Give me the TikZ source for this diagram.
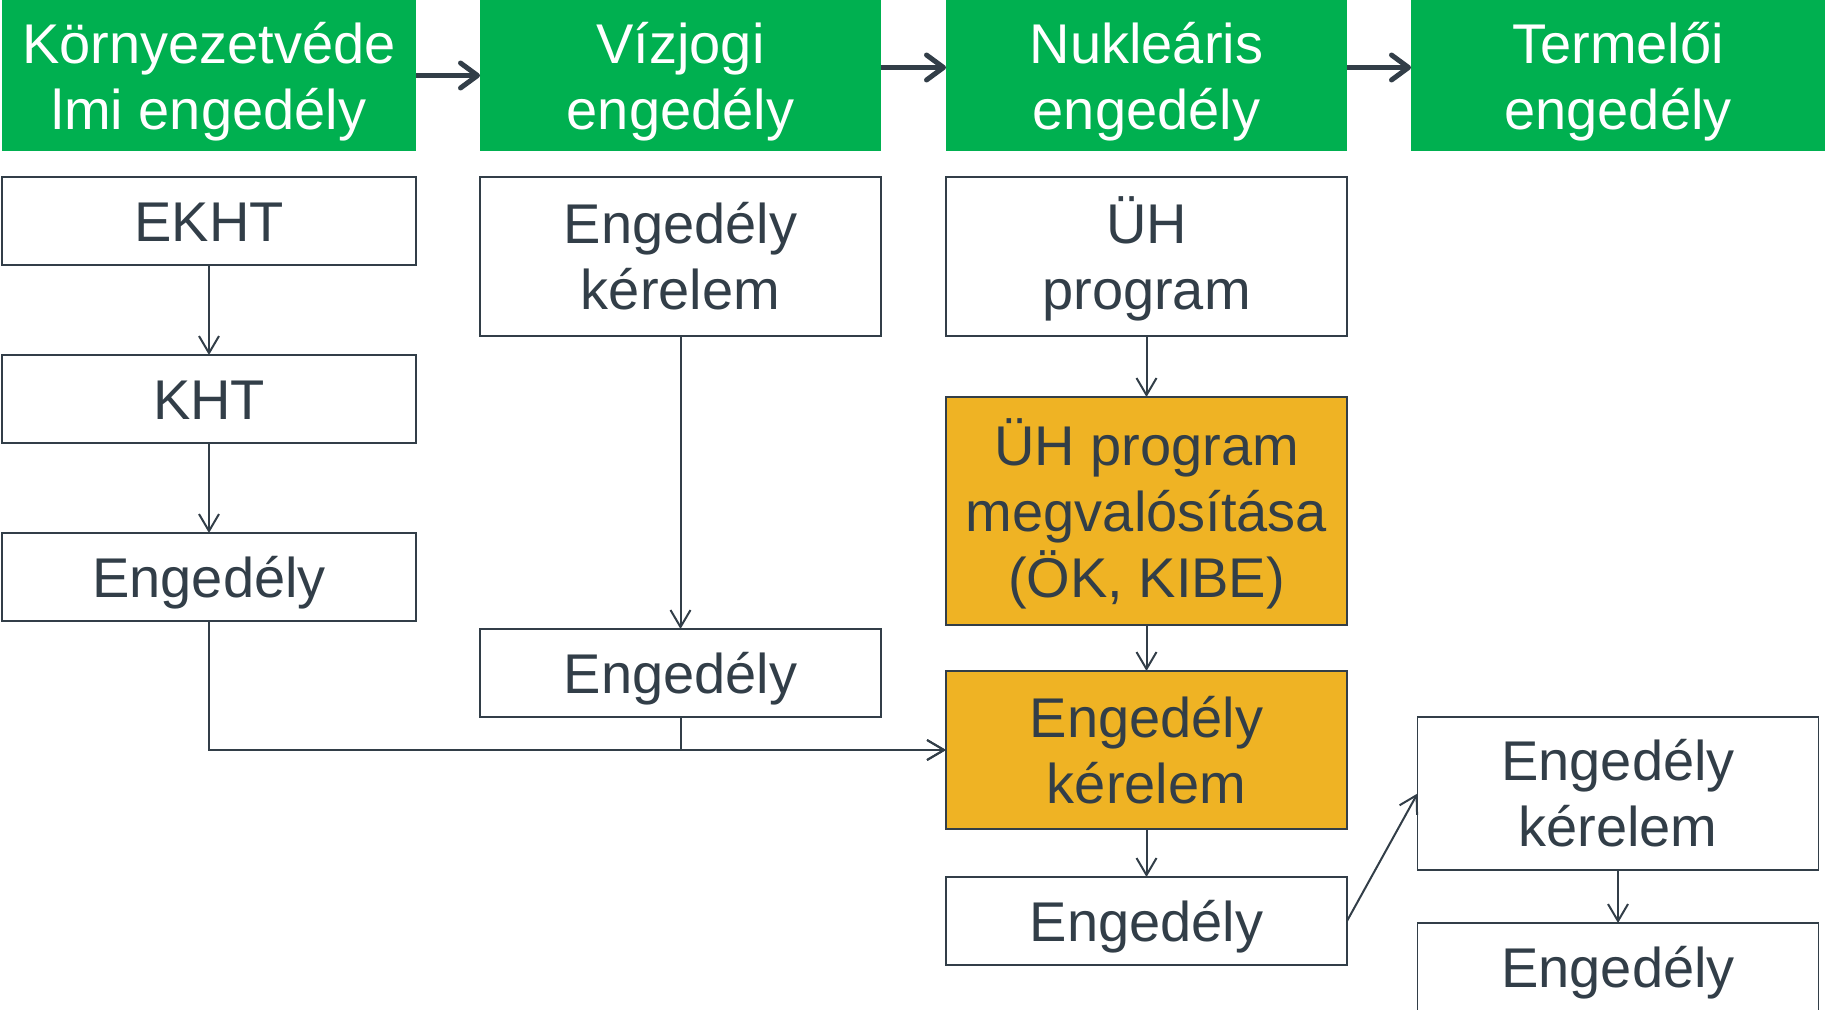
\documentclass[tikz,border=0pt]{standalone}
\usepackage{fontspec}
\setmainfont{Liberation Sans}
\usepackage{xcolor}
\usepackage{tikz}
\usetikzlibrary{positioning,arrows.meta,shapes}
\definecolor{hdgreen}{HTML}{00B050}
\definecolor{hiorange}{HTML}{EFB324}
\definecolor{darkslate}{HTML}{323E48}
\tikzstyle{head} = [rectangle, minimum width=401pt, minimum height=151pt, align=center, fill=hdgreen, text=white, text depth=0pt, outer sep=0pt, font=\fontsize{56pt}{66pt}\selectfont]
\tikzstyle{plain} = [rectangle, minimum width=401pt, minimum height=88pt, align=center, draw=darkslate, line width=1.8pt, fill=white, text=darkslate, text height=40pt, text depth=0pt, outer sep=0pt, font=\fontsize{56pt}{66pt}\selectfont]
\tikzstyle{hilite} = [plain, fill=hiorange]
\tikzstyle{tall} = [text height=106pt]
\tikzstyle{taller} = [text height=172pt]
\tikzstyle{bigarrow} = [line width=5pt, darkslate, -{Straight Barb[length=17pt,width=25pt,round]}]
\tikzstyle{link} = [line width=2pt, darkslate, -{Straight Barb[length=17pt,width=20pt]}]

\begin{document}
\begin{tikzpicture}
      \useasboundingbox (0pt,0pt) rectangle (1825pt,-1009pt);
      \node (hd1) [head, minimum width=414pt] at (209pt,-75.5pt) {Környezetvéde\\lmi engedély};
      \node (hd2) [head, right=64pt of hd1] {Vízjogi\\engedély};
      \node (hd3) [head, right=65pt of hd2] {Nukleáris\\engedély};
      \node (hd4) [head, right=64pt of hd3, minimum width=414pt] {Termelői\\engedély};

      \node (ekht) [plain, minimum width=414pt, below=26pt of hd1] {EKHT};
      \node (kht) [plain, minimum width=414pt, below=90pt of ekht] {KHT};
      \node (eng1) [plain, minimum width=414pt, below=90pt of kht] {Engedély};

      \node (ker2) [plain, tall, minimum height=159pt, below=26pt of hd2] {Engedély\\kérelem};
      \node (eng2) [plain, below=293pt of ker2] {Engedély};

      \node (uh) [plain, tall, minimum height=159pt, below=26pt of hd3] {ÜH\\program};
      \node (uhm) [hilite, taller, minimum height=228pt, below=61pt of uh] {ÜH program\\megvalósítása\\(ÖK, KIBE)};
      \node (ker3) [hilite, tall, minimum height=158pt, below=46pt of uhm] {Engedély\\kérelem};
      \node (eng3) [plain, below=48pt of ker3] {Engedély};

      \node (ker4) [plain, tall, minimum height=153pt, below=566pt of hd4] {Engedély\\kérelem};
      \node (eng4) [plain, below=53pt of ker4] {Engedély};

      \draw [bigarrow] (hd1) -- (hd2);
      \draw [bigarrow] ([yshift=8pt]hd2.east) -- ([yshift=8pt]hd3.west);
      \draw [bigarrow] ([yshift=8pt]hd3.east) -- ([yshift=8pt]hd4.west);

      \draw [link] (ekht) -- (kht);
      \draw [link] (kht) -- (eng1);
      \draw [link] (ker2) -- (eng2);
      \draw [link] (eng1.south) |- (ker3.west);
      \draw [link] (eng2.south) |- (ker3.west);
      \draw [link] (uh) -- (uhm);
      \draw [link] (uhm) -- (ker3);
      \draw [link] (ker3) -- (eng3);
      \draw [link] (eng3.east) -- (ker4.west);
      \draw [link] (ker4) -- (eng4);

    \end{tikzpicture}
\end{document}
